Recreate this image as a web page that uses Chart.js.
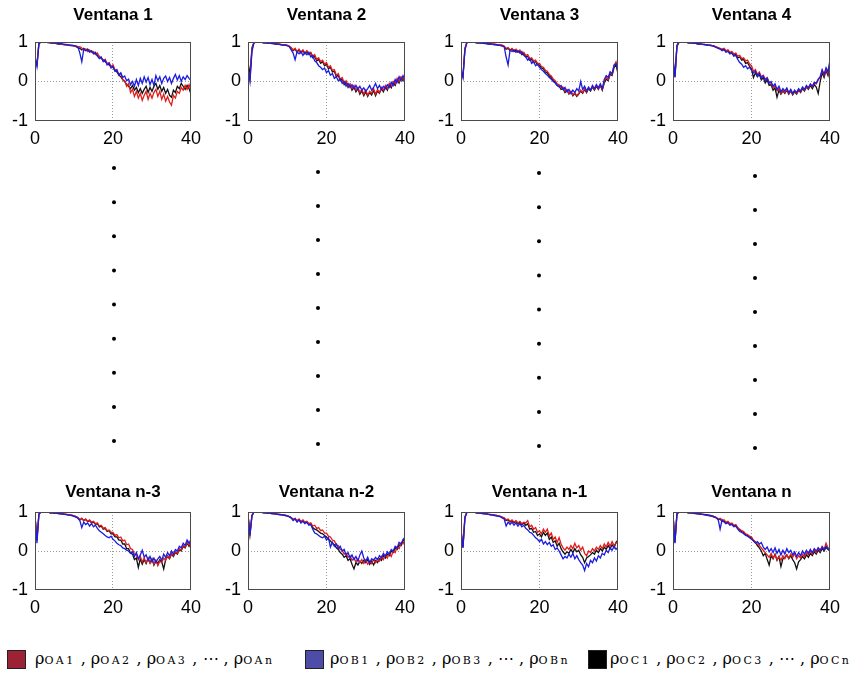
<!DOCTYPE html>
<html>
<head>
<meta charset="utf-8">
<script src="https://cdn.jsdelivr.net/npm/chart.js@4.4.0/dist/chart.umd.min.js"></script>
<style>
  body { margin: 0; background: #fff; width: 854px; height: 678px; position: relative; overflow: hidden; }
  .panel, .dots { position: absolute; }
  .sw { position: absolute; top: 650px; width: 19px; height: 19px; border: 1px solid #222; box-sizing: border-box; }
  .lt { position: absolute; top: 649px; font-family: "DejaVu Serif", serif; font-size: 16px; color: #000; white-space: nowrap; }
  .lt small { font-size: 11px; letter-spacing: 2.4px; }
</style>
</head>
<body>

<div class="sw" style="left:7px; background:#9b2335"></div>
<div class="lt" style="left:35px">ρ<small>OA1</small> , ρ<small>OA2</small> , ρ<small>OA3</small> , ⋯ , ρ<small>OAn</small></div>
<div class="sw" style="left:305px; background:#4d4ca8"></div>
<div class="lt" style="left:330px">ρ<small>OB1</small> , ρ<small>OB2</small> , ρ<small>OB3</small> , ⋯ , ρ<small>OBn</small></div>
<div class="sw" style="left:588px; background:#000"></div>
<div class="lt" style="left:610px">ρ<small>OC1</small> , ρ<small>OC2</small> , ρ<small>OC3</small> , ⋯ , ρ<small>OCn</small></div>

<script>
// lag axis (0 .. 40, half steps)
const lags = [0, 0.5, 1, 1.5, 2, 2.5, 3, 3.5, 4, 4.5, 5, 5.5, 6, 6.5, 7, 7.5, 8, 8.5, 9, 9.5,
  10, 10.5, 11, 11.5, 12, 12.5, 13, 13.5, 14, 14.5, 15, 15.5, 16, 16.5, 17, 17.5, 18, 18.5, 19, 19.5,
  20, 20.5, 21, 21.5, 22, 22.5, 23, 23.5, 24, 24.5, 25, 25.5, 26, 26.5, 27, 27.5, 28, 28.5, 29, 29.5,
  30, 30.5, 31, 31.5, 32, 32.5, 33, 33.5, 34, 34.5, 35, 35.5, 36, 36.5, 37, 37.5, 38, 38.5, 39, 39.5, 40];

const xTicks = [0, 20, 40];
const yTicks = [-1, 0, 1];
const dotRows = [1, 2, 3, 4, 5, 6, 7, 8, 9];

// Ventana 1
const v1A = [0.55, 0.45, 0.97, 1.0, 1.0, 0.99, 0.99, 0.98, 0.98, 0.97,
  0.97, 0.96, 0.96, 0.95, 0.94, 0.94, 0.93, 0.92, 0.92, 0.91,
  0.90, 0.89, 0.87, 0.88, 0.85, 0.80, 0.82, 0.76, 0.80, 0.74,
  0.76, 0.68, 0.72, 0.62, 0.60, 0.52, 0.56, 0.44, 0.48, 0.38,
  0.42, 0.30, 0.28, 0.18, 0.20, 0.05, 0.02, -0.12, -0.05, -0.28,
  -0.20, -0.38, -0.25, -0.42, -0.30, -0.48, -0.35, -0.25, -0.45, -0.30,
  -0.42, -0.28, -0.20, -0.38, -0.25, -0.45, -0.32, -0.50, -0.38, -0.52,
  -0.60, -0.35, -0.42, -0.25, -0.30, -0.15, -0.22, -0.10, -0.20, -0.08,
  -0.22];
const v1B = [0.62, 0.38, 0.95, 1.0, 1.0, 1.0, 0.99, 0.99, 0.98, 0.98,
  0.97, 0.97, 0.96, 0.96, 0.95, 0.94, 0.94, 0.93, 0.92, 0.92,
  0.91, 0.90, 0.88, 0.72, 0.50, 0.82, 0.78, 0.80, 0.74, 0.77,
  0.70, 0.72, 0.64, 0.58, 0.62, 0.50, 0.54, 0.42, 0.46, 0.34,
  0.38, 0.26, 0.30, 0.16, 0.22, 0.10, 0.14, 0.02, 0.06, -0.08,
  0.00, -0.12, 0.05, -0.10, 0.08, -0.05, 0.12, -0.02, 0.10, -0.08,
  0.05, -0.10, 0.15, 0.02, 0.12, -0.05, 0.08, 0.14, 0.00, 0.10,
  -0.05, 0.08, 0.18, 0.04, 0.15, 0.00, 0.12, 0.05, 0.15, 0.08,
  0.02];
const v1C = [0.58, 0.42, 0.96, 1.0, 1.0, 0.99, 0.99, 0.99, 0.98, 0.97,
  0.97, 0.96, 0.95, 0.95, 0.94, 0.93, 0.93, 0.92, 0.91, 0.91,
  0.90, 0.88, 0.86, 0.84, 0.80, 0.84, 0.80, 0.82, 0.76, 0.78,
  0.72, 0.74, 0.66, 0.64, 0.58, 0.55, 0.50, 0.46, 0.42, 0.38,
  0.36, 0.28, 0.24, 0.16, 0.12, 0.04, 0.00, -0.08, -0.12, -0.18,
  -0.10, -0.22, -0.15, -0.28, -0.18, -0.30, -0.20, -0.12, -0.28, -0.15,
  -0.25, -0.12, -0.05, -0.20, -0.10, -0.25, -0.15, -0.30, -0.20, -0.35,
  -0.40, -0.22, -0.28, -0.12, -0.18, -0.05, -0.12, -0.20, -0.10, -0.18,
  -0.32];

// Ventana 2
const v2A = [0.30, 0.05, 0.80, 0.98, 1.0, 1.0, 0.99, 0.99, 0.99, 0.98,
  0.98, 0.97, 0.97, 0.96, 0.96, 0.95, 0.95, 0.94, 0.93, 0.93,
  0.92, 0.90, 0.86, 0.80, 0.84, 0.76, 0.82, 0.74, 0.80, 0.72,
  0.78, 0.70, 0.74, 0.64, 0.68, 0.56, 0.60, 0.50, 0.54, 0.44,
  0.48, 0.36, 0.40, 0.28, 0.30, 0.16, 0.20, 0.06, 0.10, -0.04,
  0.02, -0.12, -0.06, -0.18, -0.10, -0.22, -0.15, -0.28, -0.20, -0.32,
  -0.22, -0.35, -0.25, -0.30, -0.18, -0.32, -0.20, -0.28, -0.15, -0.22,
  -0.10, -0.18, -0.05, -0.12, 0.00, -0.06, 0.08, 0.00, 0.12, 0.05,
  0.10];
const v2B = [0.32, 0.00, 0.75, 0.97, 1.0, 1.0, 0.99, 0.99, 0.98, 0.98,
  0.97, 0.97, 0.96, 0.96, 0.95, 0.94, 0.94, 0.93, 0.92, 0.92,
  0.91, 0.88, 0.80, 0.72, 0.55, 0.75, 0.70, 0.76, 0.66, 0.74,
  0.68, 0.74, 0.62, 0.66, 0.52, 0.48, 0.40, 0.36, 0.30, 0.34,
  0.22, 0.28, 0.16, 0.20, 0.08, 0.12, 0.02, 0.06, -0.05, 0.00,
  -0.12, -0.05, -0.15, -0.08, -0.18, -0.10, -0.20, -0.12, -0.22, -0.16,
  -0.25, -0.18, -0.10, -0.22, -0.15, -0.05, -0.18, -0.10, -0.20, -0.12,
  -0.18, -0.08, -0.15, -0.02, -0.10, 0.05, -0.02, 0.12, 0.02, 0.15,
  0.05];
const v2C = [0.50, 0.15, 0.85, 0.99, 1.0, 1.0, 0.99, 0.99, 0.98, 0.98,
  0.98, 0.97, 0.97, 0.96, 0.95, 0.95, 0.94, 0.93, 0.93, 0.92,
  0.91, 0.89, 0.84, 0.78, 0.82, 0.74, 0.80, 0.72, 0.78, 0.70,
  0.76, 0.68, 0.72, 0.60, 0.64, 0.52, 0.56, 0.46, 0.50, 0.40,
  0.44, 0.32, 0.36, 0.24, 0.26, 0.12, 0.16, 0.02, 0.06, -0.08,
  -0.02, -0.15, -0.08, -0.22, -0.14, -0.26, -0.18, -0.32, -0.24, -0.36,
  -0.26, -0.38, -0.28, -0.34, -0.22, -0.36, -0.24, -0.30, -0.18, -0.26,
  -0.14, -0.22, -0.08, -0.16, -0.04, -0.10, 0.04, -0.04, 0.10, 0.02,
  0.16];

// Ventana 3
const v3A = [0.30, 0.12, 0.85, 0.99, 1.0, 1.0, 0.99, 0.99, 0.99, 0.98,
  0.98, 0.98, 0.97, 0.97, 0.96, 0.96, 0.95, 0.95, 0.94, 0.93,
  0.93, 0.92, 0.90, 0.84, 0.86, 0.80, 0.84, 0.78, 0.82, 0.76,
  0.80, 0.72, 0.74, 0.66, 0.68, 0.58, 0.60, 0.52, 0.54, 0.46,
  0.46, 0.38, 0.36, 0.28, 0.26, 0.18, 0.14, 0.06, 0.02, -0.06,
  -0.08, -0.16, -0.14, -0.24, -0.20, -0.30, -0.25, -0.34, -0.28, -0.36,
  -0.30, -0.22, -0.28, -0.18, -0.26, -0.16, -0.22, -0.12, -0.20, -0.10,
  -0.18, -0.08, -0.20, 0.00, 0.10, 0.05, 0.22, 0.18, 0.40, 0.50,
  0.30];
const v3B = [0.30, 0.10, 0.80, 0.98, 1.0, 1.0, 0.99, 0.99, 0.98, 0.98,
  0.97, 0.97, 0.96, 0.96, 0.95, 0.95, 0.94, 0.93, 0.93, 0.92,
  0.91, 0.90, 0.88, 0.62, 0.42, 0.80, 0.76, 0.80, 0.74, 0.78,
  0.72, 0.76, 0.66, 0.62, 0.54, 0.58, 0.46, 0.50, 0.40, 0.44,
  0.36, 0.30, 0.26, 0.20, 0.16, 0.10, 0.06, 0.00, -0.04, -0.10,
  -0.14, -0.10, -0.20, -0.15, -0.26, -0.20, -0.30, -0.22, -0.28, -0.18,
  -0.24, 0.00, -0.20, -0.12, -0.24, -0.14, -0.22, -0.10, -0.18, -0.08,
  -0.16, -0.06, -0.18, 0.05, 0.15, 0.10, 0.25, 0.20, 0.42, 0.45,
  0.25];
const v3C = [0.28, 0.14, 0.82, 0.99, 1.0, 1.0, 0.99, 0.99, 0.98, 0.98,
  0.98, 0.97, 0.97, 0.96, 0.95, 0.95, 0.94, 0.94, 0.93, 0.92,
  0.92, 0.90, 0.88, 0.82, 0.84, 0.78, 0.82, 0.76, 0.80, 0.74,
  0.76, 0.68, 0.70, 0.62, 0.64, 0.54, 0.56, 0.48, 0.50, 0.42,
  0.42, 0.34, 0.32, 0.24, 0.22, 0.14, 0.10, 0.02, -0.02, -0.10,
  -0.12, -0.20, -0.18, -0.28, -0.22, -0.32, -0.26, -0.36, -0.30, -0.38,
  -0.32, -0.24, -0.30, -0.20, -0.28, -0.18, -0.24, -0.14, -0.22, -0.12,
  -0.20, -0.10, -0.22, -0.04, 0.06, 0.02, 0.18, 0.15, 0.35, 0.42,
  0.20];

// Ventana 4
const v4A = [0.55, 0.15, 0.90, 0.99, 1.0, 1.0, 0.99, 0.99, 0.98, 0.98,
  0.97, 0.97, 0.96, 0.96, 0.95, 0.94, 0.94, 0.93, 0.92, 0.92,
  0.91, 0.90, 0.88, 0.86, 0.84, 0.82, 0.84, 0.78, 0.80, 0.74,
  0.76, 0.70, 0.72, 0.64, 0.66, 0.58, 0.60, 0.52, 0.54, 0.44,
  0.40, 0.26, 0.30, 0.18, 0.24, 0.12, 0.16, 0.06, 0.10, -0.02,
  -0.04, -0.16, -0.10, -0.24, -0.18, -0.30, -0.22, -0.28, -0.20, -0.30,
  -0.22, -0.32, -0.24, -0.30, -0.20, -0.26, -0.16, -0.22, -0.12, -0.18,
  -0.08, -0.14, -0.04, -0.06, 0.04, 0.10, 0.28, 0.15, 0.32, 0.20,
  0.50];
const v4B = [0.60, 0.10, 0.92, 1.0, 1.0, 1.0, 0.99, 0.99, 0.98, 0.98,
  0.97, 0.97, 0.96, 0.95, 0.95, 0.94, 0.93, 0.93, 0.92, 0.91,
  0.90, 0.89, 0.86, 0.84, 0.82, 0.78, 0.80, 0.74, 0.76, 0.70,
  0.72, 0.64, 0.66, 0.56, 0.48, 0.44, 0.36, 0.40, 0.32, 0.36,
  0.28, 0.22, 0.26, 0.14, 0.20, 0.08, 0.14, 0.02, 0.08, -0.04,
  0.00, -0.12, -0.06, -0.20, -0.12, -0.26, -0.18, -0.24, -0.16, -0.28,
  -0.20, -0.30, -0.22, -0.28, -0.18, -0.24, -0.14, -0.20, -0.10, -0.16,
  -0.06, -0.12, -0.02, -0.04, 0.06, 0.12, 0.30, 0.18, 0.35, 0.25,
  0.55];
const v4C = [0.50, 0.12, 0.88, 0.99, 1.0, 1.0, 0.99, 0.99, 0.98, 0.98,
  0.97, 0.97, 0.96, 0.95, 0.95, 0.94, 0.94, 0.93, 0.92, 0.92,
  0.91, 0.89, 0.87, 0.85, 0.83, 0.80, 0.82, 0.76, 0.78, 0.72,
  0.74, 0.66, 0.70, 0.60, 0.62, 0.54, 0.56, 0.46, 0.48, 0.38,
  0.32, 0.10, 0.22, 0.12, 0.18, 0.04, 0.10, -0.04, 0.04, -0.10,
  -0.08, -0.22, -0.16, -0.40, -0.22, -0.32, -0.24, -0.30, -0.22, -0.32,
  -0.24, -0.34, -0.26, -0.32, -0.22, -0.28, -0.18, -0.24, -0.14, -0.20,
  -0.10, -0.18, -0.08, -0.14, -0.30, 0.00, 0.22, 0.10, 0.28, 0.15,
  0.40];

// Ventana n-3
const vn3A = [0.90, 0.30, 0.95, 1.0, 1.0, 1.0, 0.99, 0.99, 0.98, 0.98,
  0.98, 0.97, 0.97, 0.96, 0.95, 0.95, 0.94, 0.93, 0.92, 0.92,
  0.90, 0.88, 0.86, 0.80, 0.84, 0.78, 0.82, 0.76, 0.80, 0.74,
  0.76, 0.70, 0.72, 0.64, 0.66, 0.58, 0.60, 0.52, 0.54, 0.48,
  0.48, 0.40, 0.42, 0.34, 0.36, 0.26, 0.28, 0.16, 0.18, 0.06,
  0.04, -0.08, -0.10, -0.22, -0.14, -0.28, -0.18, -0.30, -0.20, -0.32,
  -0.22, -0.34, -0.24, -0.38, -0.26, -0.30, -0.18, -0.24, -0.12, -0.18,
  -0.06, -0.12, -0.02, -0.06, 0.06, 0.02, 0.14, 0.10, 0.22, 0.15,
  0.25];
const vn3B = [0.92, 0.20, 0.95, 1.0, 1.0, 1.0, 0.99, 0.99, 0.98, 0.98,
  0.97, 0.97, 0.96, 0.95, 0.95, 0.94, 0.93, 0.92, 0.92, 0.91,
  0.89, 0.87, 0.84, 0.78, 0.60, 0.74, 0.68, 0.72, 0.64, 0.70,
  0.62, 0.66, 0.58, 0.52, 0.48, 0.44, 0.40, 0.36, 0.34, 0.38,
  0.30, 0.26, 0.20, 0.16, 0.14, 0.08, 0.06, 0.02, 0.00, -0.06,
  -0.02, -0.14, -0.04, -0.20, -0.10, 0.02, -0.16, -0.10, -0.24, -0.14,
  -0.28, -0.18, -0.30, -0.20, -0.14, -0.24, -0.08, -0.16, -0.04, -0.12,
  0.00, -0.08, 0.04, 0.00, 0.12, 0.08, 0.20, 0.14, 0.28, 0.20,
  0.30];
const vn3C = [0.88, 0.28, 0.94, 1.0, 1.0, 1.0, 0.99, 0.99, 0.98, 0.98,
  0.97, 0.97, 0.96, 0.96, 0.95, 0.94, 0.94, 0.93, 0.92, 0.91,
  0.90, 0.88, 0.85, 0.80, 0.83, 0.78, 0.81, 0.75, 0.78, 0.72,
  0.74, 0.68, 0.70, 0.62, 0.64, 0.56, 0.58, 0.50, 0.52, 0.44,
  0.44, 0.36, 0.36, 0.28, 0.28, 0.18, 0.18, 0.06, 0.06, -0.06,
  -0.08, -0.22, -0.18, -0.42, -0.20, -0.34, -0.22, -0.32, -0.18, -0.30,
  -0.20, -0.36, -0.24, -0.32, -0.22, -0.28, -0.46, -0.22, -0.14, -0.20,
  -0.08, -0.14, -0.04, -0.08, 0.04, 0.00, 0.12, 0.08, 0.20, 0.12,
  0.22];

// Ventana n-2
const vn2A = [0.92, 0.45, 0.92, 1.0, 1.0, 1.0, 0.99, 0.99, 0.99, 0.98,
  0.98, 0.97, 0.97, 0.96, 0.95, 0.95, 0.94, 0.93, 0.92, 0.91,
  0.90, 0.88, 0.86, 0.82, 0.84, 0.78, 0.82, 0.76, 0.80, 0.74,
  0.76, 0.70, 0.72, 0.64, 0.66, 0.58, 0.60, 0.52, 0.54, 0.46,
  0.46, 0.38, 0.36, 0.28, 0.26, 0.16, 0.14, 0.04, 0.02, -0.08,
  -0.06, -0.16, -0.12, -0.24, -0.18, -0.28, -0.20, -0.30, -0.22, -0.32,
  -0.24, -0.34, -0.26, -0.32, -0.22, -0.30, -0.20, -0.26, -0.14, -0.22,
  -0.10, -0.18, -0.06, -0.14, 0.00, -0.04, 0.10, 0.06, 0.20, 0.18,
  0.30];
const vn2B = [0.95, 0.40, 0.90, 1.0, 1.0, 1.0, 0.99, 0.99, 0.98, 0.98,
  0.97, 0.97, 0.96, 0.95, 0.95, 0.94, 0.93, 0.93, 0.92, 0.91,
  0.90, 0.88, 0.85, 0.78, 0.82, 0.74, 0.80, 0.72, 0.76, 0.70,
  0.74, 0.66, 0.68, 0.56, 0.46, 0.44, 0.40, 0.36, 0.34, 0.38,
  0.28, 0.34, 0.10, 0.22, 0.12, 0.18, 0.06, 0.12, 0.00, 0.04,
  -0.10, -0.04, -0.18, -0.10, -0.22, -0.14, -0.26, -0.10, 0.00, -0.18,
  -0.26, -0.16, -0.30, -0.20, -0.24, -0.16, -0.22, -0.12, -0.18, -0.06,
  -0.14, -0.02, -0.08, 0.04, 0.00, 0.12, 0.08, 0.22, 0.18, 0.30,
  0.35];
const vn2C = [0.90, 0.42, 0.90, 1.0, 1.0, 1.0, 0.99, 0.99, 0.98, 0.98,
  0.97, 0.97, 0.96, 0.96, 0.95, 0.94, 0.94, 0.93, 0.92, 0.92,
  0.90, 0.88, 0.85, 0.80, 0.83, 0.76, 0.80, 0.74, 0.78, 0.72,
  0.74, 0.68, 0.70, 0.60, 0.56, 0.54, 0.50, 0.46, 0.44, 0.40,
  0.36, 0.30, 0.26, 0.20, 0.16, 0.08, 0.04, -0.04, -0.08, -0.16,
  -0.12, -0.24, -0.20, -0.34, -0.46, -0.30, -0.36, -0.26, -0.32, -0.24,
  -0.30, -0.22, -0.34, -0.26, -0.36, -0.24, -0.30, -0.20, -0.24, -0.12,
  -0.18, -0.08, -0.12, 0.00, -0.04, 0.08, 0.04, 0.16, 0.14, 0.26,
  0.32];

// Ventana n-1
const vn1A = [0.55, 0.12, 0.88, 0.99, 1.0, 1.0, 0.99, 0.99, 0.98, 0.98,
  0.97, 0.97, 0.96, 0.95, 0.94, 0.94, 0.93, 0.92, 0.91, 0.90,
  0.89, 0.87, 0.85, 0.80, 0.82, 0.76, 0.80, 0.74, 0.78, 0.72,
  0.76, 0.70, 0.74, 0.72, 0.78, 0.62, 0.66, 0.56, 0.60, 0.48,
  0.52, 0.44, 0.56, 0.48, 0.56, 0.38, 0.46, 0.30, 0.36, 0.22,
  0.34, 0.18, 0.08, 0.02, 0.10, 0.04, 0.14, 0.06, 0.20, 0.08,
  0.14, 0.02, 0.10, -0.06, -0.12, 0.00, -0.04, 0.06, 0.00, 0.10,
  0.04, 0.14, 0.06, 0.18, 0.10, 0.22, 0.12, 0.24, 0.14, 0.20,
  0.22];
const vn1B = [0.50, 0.08, 0.85, 0.99, 1.0, 1.0, 0.99, 0.99, 0.98, 0.97,
  0.97, 0.96, 0.95, 0.95, 0.94, 0.93, 0.92, 0.91, 0.90, 0.89,
  0.88, 0.85, 0.82, 0.64, 0.74, 0.68, 0.74, 0.66, 0.72, 0.64,
  0.70, 0.62, 0.66, 0.58, 0.54, 0.48, 0.46, 0.40, 0.34, 0.30,
  0.24, 0.30, 0.18, 0.24, 0.16, 0.22, 0.12, 0.16, 0.04, 0.08,
  0.00, -0.10, -0.20, -0.14, -0.18, -0.08, -0.16, -0.06, -0.20, -0.12,
  -0.22, -0.30, -0.36, -0.50, -0.32, -0.40, -0.24, -0.30, -0.18, -0.26,
  -0.12, -0.18, -0.06, -0.10, 0.02, -0.04, 0.08, 0.02, 0.12, 0.04,
  0.10];
const vn1C = [0.52, 0.10, 0.86, 0.99, 1.0, 1.0, 0.99, 0.99, 0.98, 0.98,
  0.97, 0.96, 0.96, 0.95, 0.94, 0.93, 0.93, 0.92, 0.91, 0.90,
  0.89, 0.86, 0.84, 0.78, 0.80, 0.74, 0.78, 0.72, 0.76, 0.70,
  0.74, 0.68, 0.72, 0.66, 0.70, 0.56, 0.58, 0.48, 0.50, 0.40,
  0.44, 0.36, 0.48, 0.40, 0.46, 0.30, 0.36, 0.22, 0.26, 0.12,
  0.20, 0.06, -0.02, -0.08, -0.02, -0.06, 0.04, -0.04, 0.06, -0.02,
  0.02, -0.10, -0.16, -0.30, -0.18, -0.14, -0.10, -0.04, -0.08, 0.02,
  -0.04, 0.06, 0.00, 0.10, 0.04, 0.14, 0.06, 0.16, 0.08, 0.22,
  0.28];

// Ventana n
const vnA = [0.92, 0.25, 0.95, 1.0, 1.0, 1.0, 0.99, 0.99, 0.98, 0.98,
  0.97, 0.97, 0.96, 0.96, 0.95, 0.94, 0.94, 0.93, 0.92, 0.91,
  0.90, 0.88, 0.86, 0.82, 0.84, 0.78, 0.80, 0.74, 0.76, 0.70,
  0.72, 0.66, 0.68, 0.60, 0.56, 0.52, 0.50, 0.44, 0.42, 0.38,
  0.36, 0.28, 0.24, 0.18, 0.14, 0.08, 0.02, -0.04, -0.10, -0.16,
  -0.06, -0.18, -0.10, -0.22, -0.14, -0.24, -0.12, -0.20, -0.10, -0.18,
  -0.08, -0.16, -0.06, -0.20, -0.12, -0.18, -0.08, -0.14, -0.04, -0.10,
  0.00, -0.08, 0.04, -0.04, 0.08, 0.00, 0.12, 0.04, 0.20, 0.08,
  0.05];
const vnB = [0.95, 0.20, 0.96, 1.0, 1.0, 1.0, 0.99, 0.99, 0.98, 0.98,
  0.97, 0.97, 0.96, 0.95, 0.95, 0.94, 0.93, 0.93, 0.92, 0.91,
  0.90, 0.88, 0.86, 0.82, 0.56, 0.80, 0.74, 0.70, 0.72, 0.66,
  0.68, 0.62, 0.64, 0.56, 0.50, 0.48, 0.44, 0.40, 0.38, 0.34,
  0.30, 0.26, 0.20, 0.24, 0.18, 0.22, 0.10, 0.04, 0.10, -0.02,
  0.06, -0.04, 0.08, -0.06, 0.04, -0.10, 0.02, -0.08, 0.06, -0.04,
  0.02, -0.10, -0.02, -0.14, -0.04, -0.12, 0.00, -0.08, 0.02, -0.06,
  0.04, -0.04, 0.06, 0.00, 0.08, 0.02, 0.10, 0.04, 0.12, 0.06,
  0.02];
const vnC = [0.90, 0.22, 0.94, 1.0, 1.0, 1.0, 0.99, 0.99, 0.98, 0.98,
  0.97, 0.96, 0.96, 0.95, 0.94, 0.94, 0.93, 0.92, 0.91, 0.90,
  0.89, 0.87, 0.85, 0.80, 0.82, 0.76, 0.78, 0.72, 0.74, 0.68,
  0.70, 0.64, 0.66, 0.58, 0.54, 0.50, 0.48, 0.42, 0.40, 0.36,
  0.34, 0.26, 0.22, 0.14, 0.08, 0.00, -0.12, -0.06, -0.22, -0.36,
  -0.12, -0.20, -0.08, -0.24, -0.14, -0.40, -0.20, -0.16, -0.10, -0.20,
  -0.12, -0.22, -0.30, -0.46, -0.28, -0.22, -0.14, -0.20, -0.10, -0.16,
  -0.06, -0.12, -0.02, -0.08, 0.02, -0.04, 0.06, 0.00, 0.10, 0.04,
  0.00];

const titles = ['Ventana 1', 'Ventana 2', 'Ventana 3', 'Ventana 4',
  'Ventana n-3', 'Ventana n-2', 'Ventana n-1', 'Ventana n'];
const seriesA = [v1A, v2A, v3A, v4A, vn3A, vn2A, vn1A, vnA];
const seriesB = [v1B, v2B, v3B, v4B, vn3B, vn2B, vn1B, vnB];
const seriesC = [v1C, v2C, v3C, v4C, vn3C, vn2C, vn1C, vnC];

// layout of the plot boxes on the page (px)
const plotLeft = [35, 248, 461, 673];
const plotWidth = [159, 160, 160, 160];
const rows = [
  { canvasTop: 0, plotTop: 42, plotBottom: 121, titleTop: 5 },
  { canvasTop: 470, plotTop: 512, plotBottom: 590, titleTop: 12 }
];
const dotCols = [
  { x: 114, top: 168, bottom: 441 },
  { x: 318, top: 172, bottom: 444 },
  { x: 539, top: 173, bottom: 446 },
  { x: 755, top: 176, bottom: 448 }
];

const Y_AXIS_W = 35, X_AXIS_H = 32, RIGHT_PAD = 14, TITLE_SIZE = 17;
const TITLE_LH = TITLE_SIZE * 1.2;
const tickFont = { family: '"Liberation Sans", Arial, sans-serif', size: 18 };

const boxPlugin = {
  id: 'box',
  afterDatasetsDraw(chart) {
    const { ctx, chartArea: a } = chart;
    ctx.save();
    ctx.strokeStyle = '#4a4a4a';
    ctx.lineWidth = 1;
    ctx.strokeRect(Math.round(a.left) + 0.5, Math.round(a.top) + 0.5, Math.round(a.width) - 1, Math.round(a.height) - 1);
    ctx.restore();
  }
};

function pts(vals) {
  return lags.map((x, i) => ({ x: x, y: vals[i] }));
}

function makePanel(i) {
  const col = i % 4, row = rows[Math.floor(i / 4)];
  const div = document.createElement('div');
  div.className = 'panel';
  const w = Y_AXIS_W + plotWidth[col] + RIGHT_PAD;
  const h = row.plotBottom + X_AXIS_H - row.canvasTop;
  div.style.left = (plotLeft[col] - Y_AXIS_W) + 'px';
  div.style.top = row.canvasTop + 'px';
  div.style.width = w + 'px';
  div.style.height = h + 'px';
  const cv = document.createElement('canvas');
  div.appendChild(cv);
  document.body.appendChild(div);

  const titleBottom = row.plotTop - row.canvasTop - row.titleTop - TITLE_LH;

  new Chart(cv, {
    type: 'line',
    data: {
      datasets: [
        { label: 'B', data: pts(seriesB[i]), borderColor: '#1c1ce0', borderWidth: 1.3 },
        { label: 'A', data: pts(seriesA[i]), borderColor: '#e01c1c', borderWidth: 1.3 },
        { label: 'C', data: pts(seriesC[i]), borderColor: '#111111', borderWidth: 1.3 }
      ]
    },
    options: {
      responsive: true,
      maintainAspectRatio: false,
      animation: false,
      elements: { point: { radius: 0 }, line: { tension: 0 } },
      layout: { padding: { left: 0, right: RIGHT_PAD, top: 0, bottom: 0 } },
      plugins: {
        legend: { display: false },
        tooltip: { enabled: false },
        title: {
          display: true,
          text: titles[i],
          fullSize: false,
          color: '#000',
          font: { family: '"Liberation Sans", Arial, sans-serif', size: TITLE_SIZE, weight: 'bold' },
          padding: { top: row.titleTop, bottom: titleBottom }
        }
      },
      scales: {
        x: {
          type: 'linear', min: 0, max: 40,
          afterBuildTicks: s => { s.ticks = xTicks.map(v => ({ value: v })); },
          afterFit: s => { s.height = X_AXIS_H; },
          ticks: { color: '#000', font: tickFont, padding: 7, maxRotation: 0 },
          grid: { drawTicks: false, lineWidth: 1, color: c => (c.tick && c.tick.value === 20) ? '#9a9a9a' : 'transparent' },
          border: { display: false, dash: [1, 2] }
        },
        y: {
          min: -1, max: 1,
          afterBuildTicks: s => { s.ticks = yTicks.map(v => ({ value: v })); },
          afterFit: s => { s.width = Y_AXIS_W; },
          ticks: { color: '#000', font: tickFont, padding: 7 },
          grid: { drawTicks: false, lineWidth: 1, color: c => (c.tick && c.tick.value === 0) ? '#9a9a9a' : 'transparent' },
          border: { display: false, dash: [1, 2] }
        }
      }
    },
    plugins: [boxPlugin]
  });
}

function makeDots(col) {
  const d = dotCols[col];
  const pad = 6;
  const div = document.createElement('div');
  div.className = 'dots';
  div.style.left = (d.x - 10) + 'px';
  div.style.top = (d.top - pad) + 'px';
  div.style.width = '20px';
  div.style.height = (d.bottom - d.top + 2 * pad) + 'px';
  const cv = document.createElement('canvas');
  div.appendChild(cv);
  document.body.appendChild(div);
  new Chart(cv, {
    type: 'scatter',
    data: { datasets: [{ data: dotRows.map(r => ({ x: 0, y: r })), backgroundColor: '#000', borderWidth: 0, pointRadius: 2, clip: false }] },
    options: {
      responsive: true, maintainAspectRatio: false, animation: false,
      layout: { padding: pad },
      plugins: { legend: { display: false }, tooltip: { enabled: false } },
      scales: {
        x: { display: false, min: -1, max: 1 },
        y: { display: false, min: 1, max: 9, reverse: true }
      }
    }
  });
}

for (let i = 0; i < 8; i++) makePanel(i);
for (let c = 0; c < 4; c++) makeDots(c);
</script>
</body>
</html>
